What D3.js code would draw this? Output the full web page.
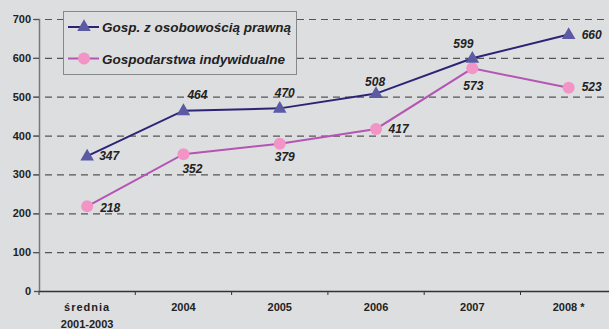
<!DOCTYPE html>
<html>
<head>
<meta charset="utf-8">
<script src="https://cdn.jsdelivr.net/npm/d3@7"></script>
<style>
  html, body { margin: 0; padding: 0; background: #dddee0; }
  svg { display: block; font-family: Arial, "Liberation Sans", sans-serif; }
</style>
</head>
<body>
<svg id="chart" width="609" height="329"></svg>
<script>
// Categories (x axis)
const categories = ["średnia\n2001-2003", "2004", "2005", "2006", "2007", "2008 *"];
// Series values
const legalEntity = [347, 464, 470, 508, 599, 660];
const individual = [218, 352, 379, 417, 573, 523];
const seriesNames = ["Gosp. z osobowością prawną", "Gospodarstwa indywidualne"];
// Y ticks
const yTicks = [0, 100, 200, 300, 400, 500, 600, 700];

// Value label layout: anchor and offset from each point
const legalLabelLayout = [
  { anchor: "start", dx: 12, dy: 4 },
  { anchor: "middle", dx: 14, dy: -12 },
  { anchor: "middle", dx: 5, dy: -11 },
  { anchor: "middle", dx: -1, dy: -8 },
  { anchor: "middle", dx: -9, dy: -10 },
  { anchor: "start", dx: 13, dy: 4.5 }
];
const indivLabelLayout = [
  { anchor: "start", dx: 13, dy: 5.5 },
  { anchor: "middle", dx: 9, dy: 19 },
  { anchor: "middle", dx: 5, dy: 17 },
  { anchor: "start", dx: 12.5, dy: 4 },
  { anchor: "middle", dx: 1, dy: 22 },
  { anchor: "start", dx: 13, dy: 3.5 }
];

const svg = d3.select("#chart");
const plotLeft = 39, plotTop = 19, plotBottom = 291;
const bandW = 96.3;

const x = d3.scaleBand().domain(d3.range(categories.length))
  .range([plotLeft, plotLeft + bandW * categories.length]).padding(0);
const y = d3.scaleLinear().domain([0, 700]).range([plotBottom, plotTop]);

// Grid lines
svg.append("g").selectAll("line").data(yTicks.filter(d => d > 0)).join("line")
  .attr("x1", 33).attr("x2", 609)
  .attr("y1", d => y(d) + 0.5).attr("y2", d => y(d) + 0.5)
  .attr("stroke", "#555").attr("stroke-width", 1.2)
  .attr("stroke-dasharray", "7,5");

// Y axis
const yAxis = d3.axisLeft(y).tickValues(yTicks).tickSize(5).tickPadding(3);
const gy = svg.append("g").attr("transform", `translate(${plotLeft},0)`).call(yAxis);
gy.select(".domain").attr("stroke", "#777").attr("stroke-width", 1.5);
gy.selectAll(".tick line").attr("stroke", "#555");
gy.selectAll(".tick text").attr("font-size", 11).attr("font-weight", "bold")
  .attr("fill", "#222").attr("font-family", "Arial, 'Liberation Sans', sans-serif");

// X axis
const xAxis = d3.axisBottom(x).tickValues([]).tickSizeOuter(0);
const gx = svg.append("g").attr("transform", `translate(0,${plotBottom})`).call(xAxis);
gx.select(".domain").attr("stroke", "#333").attr("stroke-width", 1.5);
// tick marks on band edges
svg.append("g").selectAll("line").data(d3.range(categories.length + 1)).join("line")
  .attr("x1", i => plotLeft + i * bandW).attr("x2", i => plotLeft + i * bandW)
  .attr("y1", plotBottom).attr("y2", plotBottom + 4)
  .attr("stroke", "#333").attr("stroke-width", 1);

// X labels
const xl = svg.append("g").selectAll("text").data(categories).join("text")
  .attr("text-anchor", "middle")
  .attr("font-size", 11).attr("font-weight", "bold").attr("fill", "#222")
  .attr("transform", (d, i) => `translate(${x(i) + x.bandwidth() / 2},${plotBottom + 20})`);
xl.each(function(d) {
  const lines = d.split("\n");
  const t = d3.select(this);
  lines.forEach((ln, k) => {
    t.append("tspan").attr("x", 0).attr("dy", k === 0 ? 0 : 17).text(ln)
      .attr("letter-spacing", ln === "średnia" ? 1 : 0);
  });
});

const cx = i => x(i) + x.bandwidth() / 2;
const line = d3.line().x((d, i) => cx(i)).y(d => y(d));

// Individual farms series
svg.append("path").datum(individual).attr("d", line)
  .attr("fill", "none").attr("stroke", "#b455b4").attr("stroke-width", 2);
svg.append("g").selectAll("circle").data(individual).join("circle")
  .attr("cx", (d, i) => cx(i)).attr("cy", d => y(d)).attr("r", 6)
  .attr("fill", "#f394c6");

// Legal-entity farms series
svg.append("path").datum(legalEntity).attr("d", line)
  .attr("fill", "none").attr("stroke", "#2b2475").attr("stroke-width", 2);
const tri = d3.symbol().type(d3.symbolTriangle).size(80);
svg.append("g").selectAll("path").data(legalEntity).join("path")
  .attr("d", tri)
  .attr("transform", (d, i) => `translate(${cx(i)},${y(d) + 0.5})`)
  .attr("fill", "#5b5aa3");

// Value labels
function labels(data, layout) {
  svg.append("g").selectAll("text").data(data).join("text")
    .attr("font-size", 12).attr("font-weight", "bold").attr("font-style", "italic")
    .attr("fill", "#222")
    .attr("text-anchor", (d, i) => layout[i].anchor)
    .attr("x", (d, i) => cx(i) + layout[i].dx)
    .attr("y", (d, i) => y(d) + layout[i].dy)
    .text(d => d);
}
labels(legalEntity, legalLabelLayout);
labels(individual, indivLabelLayout);

// Legend
const lg = svg.append("g");
lg.append("rect").attr("x", 63.5).attr("y", 11.5).attr("width", 233).attr("height", 63)
  .attr("fill", "#dddee0").attr("stroke", "#888").attr("stroke-width", 1);
const legendColors = [["#2b2475", "#5b5aa3"], ["#b455b4", "#f394c6"]];
seriesNames.forEach((name, k) => {
  const ly = 27 + k * 31.5;
  lg.append("line").attr("x1", 68).attr("x2", 99).attr("y1", ly).attr("y2", ly)
    .attr("stroke", legendColors[k][0]).attr("stroke-width", 2);
  if (k === 0) {
    lg.append("path").attr("d", tri).attr("transform", `translate(84,${ly})`)
      .attr("fill", legendColors[k][1]);
  } else {
    lg.append("circle").attr("cx", 84).attr("cy", ly).attr("r", 6).attr("fill", legendColors[k][1]);
  }
  lg.append("text").attr("x", 102).attr("y", ly + 5)
    .attr("font-size", 13.5).attr("font-weight", "bold").attr("font-style", "italic")
    .attr("fill", "#222").text(name);
});
</script>
</body>
</html>
